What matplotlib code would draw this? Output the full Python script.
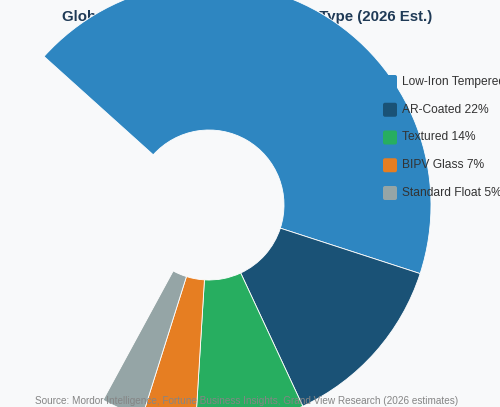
import matplotlib.pyplot as plt
from matplotlib.patches import FancyBboxPatch

plt.rcParams['font.family'] = ['Liberation Sans', 'DejaVu Sans']

# Segment names, legend shares and colours
labels = ["Low-Iron Tempered", "AR-Coated", "Textured", "BIPV Glass", "Standard Float"]
shares = [52, 22, 14, 7, 5]
colors = ["#2E86C1", "#1A5276", "#27AE60", "#E67E22", "#95A5A6"]

# Sweep of each ring segment (degrees) as it shows in the reference picture
drawn_deg = [156, 47, 28.5, 14, 11]

TITLE = "Global Solar Glass Market Share by Type (2026 Est.)"
SOURCE = "Source: Mordor Intelligence, Fortune Business Insights, Grand View Research (2026 estimates)"

BG = "#f8f9fa"
W, H = 500, 407

fig = plt.figure(figsize=(W / 100, H / 100), dpi=100)
fig.patch.set_facecolor(BG)
ax = fig.add_axes([0, 0, 1, 1])
ax.set_facecolor(BG)

# Title sits underneath the oversized ring
ax.text(247, H - 17, TITLE, ha="center", va="center", fontsize=10.8,
        fontweight="bold", color="#1f3a56", zorder=0)

# Doughnut ring, starting at the upper left and running clockwise
ax.pie([d / 360 for d in drawn_deg], colors=colors, startangle=90 - 312,
       counterclock=False, normalize=False, center=(209, H - 205), radius=222,
       wedgeprops=dict(width=147, edgecolor="white", linewidth=0.6))

ax.set_xlim(0, W)
ax.set_ylim(0, H)
ax.set_aspect("auto")
ax.axis("off")

# Legend on the right, drawn over the ring
for i, (name, share, col) in enumerate(zip(labels, shares, colors)):
    y = H - (82 + i * 27.75)
    ax.add_patch(FancyBboxPatch((383, y - 7), 14, 14,
                                boxstyle="round,pad=0,rounding_size=2",
                                facecolor=col, edgecolor="none", zorder=5))
    ax.text(402, y, f"{name} {share}%", ha="left", va="center",
            fontsize=8.64, color="#333333", zorder=5, clip_on=False)

# Source note at the bottom
ax.text(247, H - 401, SOURCE, ha="center", va="center", fontsize=7.2,
        color="#858585", zorder=5)

fig.savefig("out.png", dpi=100, facecolor=BG)
